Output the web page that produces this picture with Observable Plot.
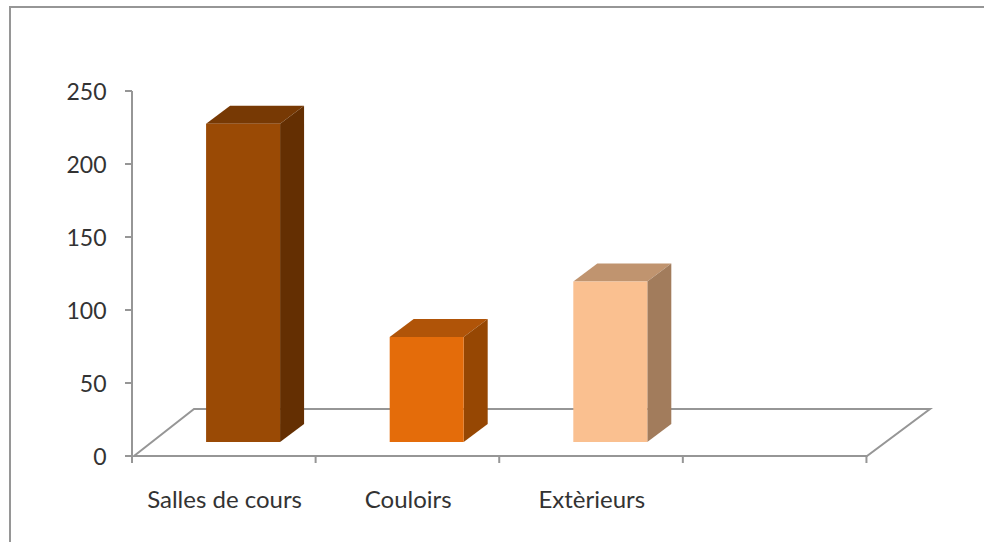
<!DOCTYPE html>
<html><head><meta charset="utf-8">
<script src="https://cdn.jsdelivr.net/npm/d3@7"></script>
<script src="https://cdn.jsdelivr.net/npm/@observablehq/plot@0.6"></script>
<style>
html,body{margin:0;padding:0;background:#fff;overflow:hidden}
svg{display:block;position:absolute;left:0;top:0}
</style></head><body>
<div id="chart"></div>
<script>
const categories = ["Salles de cours", "Couloirs", "Extèrieurs", " "];
const values = [218, 72, 110, null];
const frontColors = ["#9a4a05", "#e46c0a", "#fac090", "none"];
const topColors = ["#773904", "#b05408", "#c0946f", "none"];
const sideColors = ["#642f02", "#964703", "#a27c5c", "none"];
const yTicks = [0, 50, 100, 150, 200, 250];

const data = categories.map((c, i) => ({c, v: values[i], front: frontColors[i], top: topColors[i], side: sideColors[i]})).filter(d => d.v != null);
const NS = "http://www.w3.org/2000/svg";
const DX = 24, DY = -18, BASE = -14, SHIFT = 19, GREY = "#969696", INK = "#333";

function poly(g, pts, fill) {
  const p = document.createElementNS(NS, "polygon");
  p.setAttribute("points", pts.map(q => q.join(",")).join(" "));
  p.setAttribute("fill", fill);
  g.appendChild(p);
}
function path(g, d) {
  const p = document.createElementNS(NS, "path");
  p.setAttribute("d", d);
  p.setAttribute("fill", "none");
  p.setAttribute("stroke", GREY);
  p.setAttribute("stroke-width", 2);
  g.appendChild(p);
}
// outer frame, floor and ticks, positioned from the scales
function floorMark(index, {x, y}, values, {width, height}) {
  const g = document.createElementNS(NS, "g");
  const y0 = y(0), x0 = x.range()[0], x1 = x.range()[1];
  path(g, `M10,${height}V7H${width}`);
  path(g, `M${x0+2},${y0}L${x0+62},${y0-47}L${x1+63},${y0-47}L${x1},${y0}Z`);
  path(g, `M${x0},${y(250)}V${y0}`);
  yTicks.forEach(t => path(g, `M${x0-7},${y(t)}H${x0}`));
  const step = x.step();
  d3.range(5).forEach(i => path(g, `M${x0+i*step},${y0}v7`));
  return g;
}
// 3D box: front, top, side derived from x and y scales
function boxes(index, {x, y}) {
  const g = document.createElementNS(NS, "g");
  const w = x.bandwidth();
  data.forEach(d => {
    const l = x(d.c) + SHIFT, r = l + w, t = y(d.v) + BASE, b = y(0) + BASE;
    poly(g, [[l,t],[l+DX,t+DY],[r+DX,t+DY],[r,t]], d.top);
    poly(g, [[r,t],[r+DX,t+DY],[r+DX,b+DY],[r,b]], d.side);
    poly(g, [[l,t],[r,t],[r,b],[l,b]], d.front);
  });
  return g;
}

const chart = Plot.plot({
  width: 984, height: 542,
  marginLeft: 132, marginRight: 117, marginTop: 91, marginBottom: 86,
  style: {fontFamily: "Lato, sans-serif", background: "#fff", color: INK},
  x: {type: "band", domain: categories, paddingInner: 0.597, paddingOuter: 0.3, align: 0.5, round: false},
  y: {domain: [0, 250]},
  marks: [
    floorMark,
    boxes,
    Plot.axisY({ticks: yTicks, tickSize: 0, tickPadding: 25, dy: 1, dx: -1, fill: INK, fontSize: 23, label: null}),
    Plot.axisX({tickSize: 0, tickPadding: 34, fill: INK, fontSize: 24, label: null})
  ]
});
document.getElementById("chart").appendChild(chart);
</script>
</body></html>
